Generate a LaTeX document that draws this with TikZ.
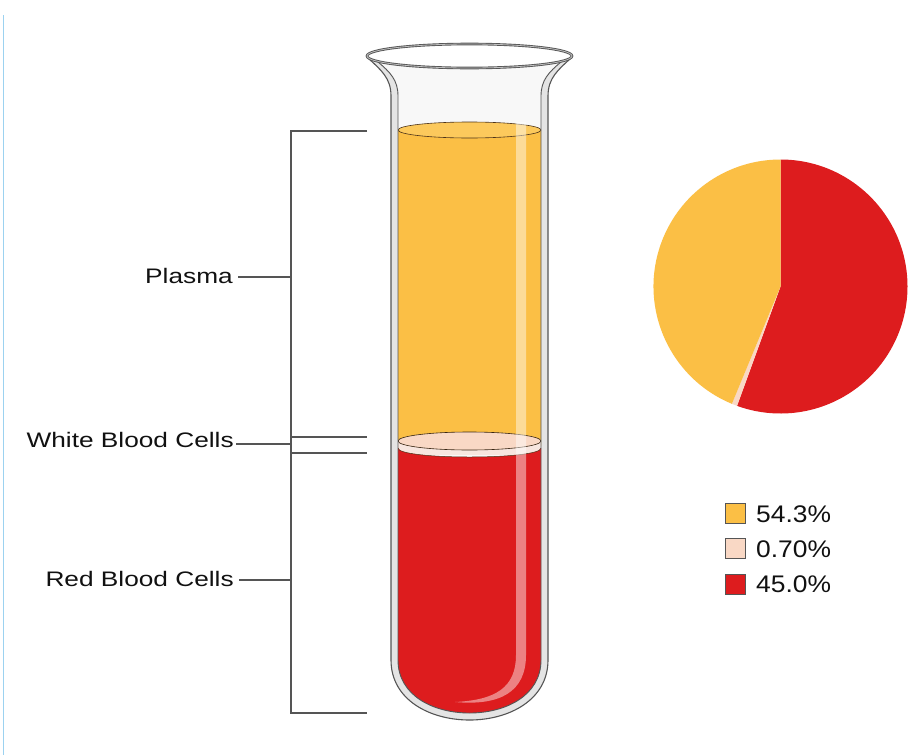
\documentclass[tikz,border=0pt]{standalone}
\usepackage{fontspec}
\setmainfont{Liberation Sans}
\begin{document}
\definecolor{plasmaY}{HTML}{FBBF45}
\definecolor{plasmaTop}{HTML}{FCC95C}
\definecolor{rbcR}{HTML}{DD1C1E}
\definecolor{wbcP}{HTML}{F9D8C5}
\definecolor{wbcBand}{HTML}{F7E6DF}
\definecolor{glassW}{HTML}{E4E4E4}
\definecolor{glassIn}{HTML}{F8F8F8}
\definecolor{glassLn}{HTML}{555555}
\definecolor{leadLn}{HTML}{555555}
\definecolor{txt}{HTML}{111111}
\definecolor{edgeBlue}{HTML}{9CD2F0}
\begin{tikzpicture}[x=1pt,y=-1pt,
  leader/.style={draw=leadLn,line width=1.1pt},
  label/.style={anchor=base east,inner sep=0pt,text=txt,xscale=1.25,
    font=\fontsize{21}{25}\selectfont},
  legendbox/.style={draw=glassLn,line width=0.6pt},
  legendtxt/.style={anchor=base west,inner sep=0pt,text=txt,xscale=1.1,
    font=\fontsize{24}{28}\selectfont},
  glassline/.style={draw=glassLn,line width=1.1pt}]
\useasboundingbox[fill=white] (0,0) rectangle (910,755);

% thin blue edge line
\draw[edgeBlue,line width=1.6pt] (3.5,15) -- (3.5,755);

% ---------- test tube ----------
% outer glass body
\fill[glassW] (368,58) .. controls (381,70) and (391,78) .. (391,96) -- (391,660)
  .. controls (391,700) and (430,720) .. (469.5,720)
  .. controls (509,720) and (548,700) .. (548,660) -- (548,96)
  .. controls (548,78) and (558,70) .. (571,58) -- cycle;
% inner space
\fill[glassIn] (378,62) .. controls (390,72) and (398,80) .. (398,96) -- (398,660)
  .. controls (398,696) and (434,713) .. (469.5,713)
  .. controls (505,713) and (541,696) .. (541,660) -- (541,96)
  .. controls (541,80) and (549,72) .. (561,62) -- cycle;

% liquids, clipped to the inner space
\begin{scope}
  \clip (398,96) -- (398,660)
    .. controls (398,696) and (434,713) .. (469.5,713)
    .. controls (505,713) and (541,696) .. (541,660) -- (541,96) -- cycle;
  \fill[plasmaY] (390,130) rectangle (550,446);
  \fill[wbcBand] (390,441) rectangle (550,455);
  \fill[rbcR] (541,448) .. controls (541,460) and (398,460) .. (398,448)
    -- (398,730) -- (541,730) -- cycle;
  \filldraw[fill=wbcP,draw=black!70!brown,line width=0.6pt]
    (469.5,441) ellipse[x radius=71.5,y radius=9];
  \draw[draw=black!60!brown,line width=0.5pt]
    (541,448) .. controls (541,460) and (398,460) .. (398,448);
  \filldraw[fill=plasmaTop,draw=black!60!brown,line width=0.6pt]
    (469.5,130) ellipse[x radius=71.5,y radius=8];
  % light streak on the glass
  \fill[white,opacity=0.45] (516,122) -- (516,655)
    .. controls (516,688) and (495,700) .. (455,702)
    .. controls (500,706) and (526,692) .. (526,655) -- (526,122) -- cycle;
\end{scope}

% glass outlines
\draw[glassline] (368,58) .. controls (381,70) and (391,78) .. (391,96) -- (391,660)
  .. controls (391,700) and (430,720) .. (469.5,720)
  .. controls (509,720) and (548,700) .. (548,660) -- (548,96)
  .. controls (548,78) and (558,70) .. (571,58);
\draw[glassline,line width=0.9pt] (378,62) .. controls (390,72) and (398,80) .. (398,96) -- (398,660)
  .. controls (398,696) and (434,713) .. (469.5,713)
  .. controls (505,713) and (541,696) .. (541,660) -- (541,96)
  .. controls (541,80) and (549,72) .. (561,62);
% rim
\filldraw[fill=white,draw=glassLn,line width=2.6pt]
  (469.5,56) ellipse[x radius=102.5,y radius=12];
\draw[draw=black!25,line width=0.8pt]
  (469.5,56) ellipse[x radius=102.5,y radius=12];

% ---------- bracket and labels ----------
\coordinate (bTop) at (291,131);
\coordinate (bBot) at (291,713);
\coordinate (jPl) at (291,277);
\coordinate (jWbc) at (291,444);
\coordinate (jRbc) at (291,580);
\draw[leader] (367,131) -- (bTop) -- (bBot) -- (367,713);
\draw[leader] (jWbc |- 0,437) -- (367,437);
\draw[leader] (jWbc |- 0,453) -- (367,453);

\node[label] (lPl) at (233,283) {Plasma};
\node[label] (lWbc) at (234,447) {White Blood Cells};
\node[label] (lRbc) at (234,586) {Red Blood Cells};
\draw[leader] (lPl.east |- jPl) ++(5,0) -- (jPl);
\draw[leader] (lWbc.east |- jWbc) ++(2,0) -- (jWbc);
\draw[leader] (lRbc.east |- jRbc) ++(5,0) -- (jRbc);

% ---------- pie chart ----------
\coordinate (pc) at (780.5,286.5);
\fill[rbcR] (pc) -- ++(-90:127) arc[start angle=-90,end angle=110,radius=127] -- cycle;
\fill[wbcP] (pc) -- ++(110:127) arc[start angle=110,end angle=112.5,radius=127] -- cycle;
\fill[plasmaY] (pc) -- ++(112.5:127) arc[start angle=112.5,end angle=270,radius=127] -- cycle;

% ---------- legend ----------
\node[legendbox,fill=plasmaY,minimum size=20pt,inner sep=0pt] (k1) at (735,513) {};
\node[legendbox,fill=wbcP,minimum size=20pt,inner sep=0pt] (k2) at (735,548.5) {};
\node[legendbox,fill=rbcR,minimum size=20pt,inner sep=0pt] (k3) at (735,584) {};
\node[legendtxt] (t1) at (756,522) {54.3\%};
\node[legendtxt] (t2) at (756,557) {0.70\%};
\node[legendtxt] (t3) at (756,592) {45.0\%};
\end{tikzpicture}
\end{document}
